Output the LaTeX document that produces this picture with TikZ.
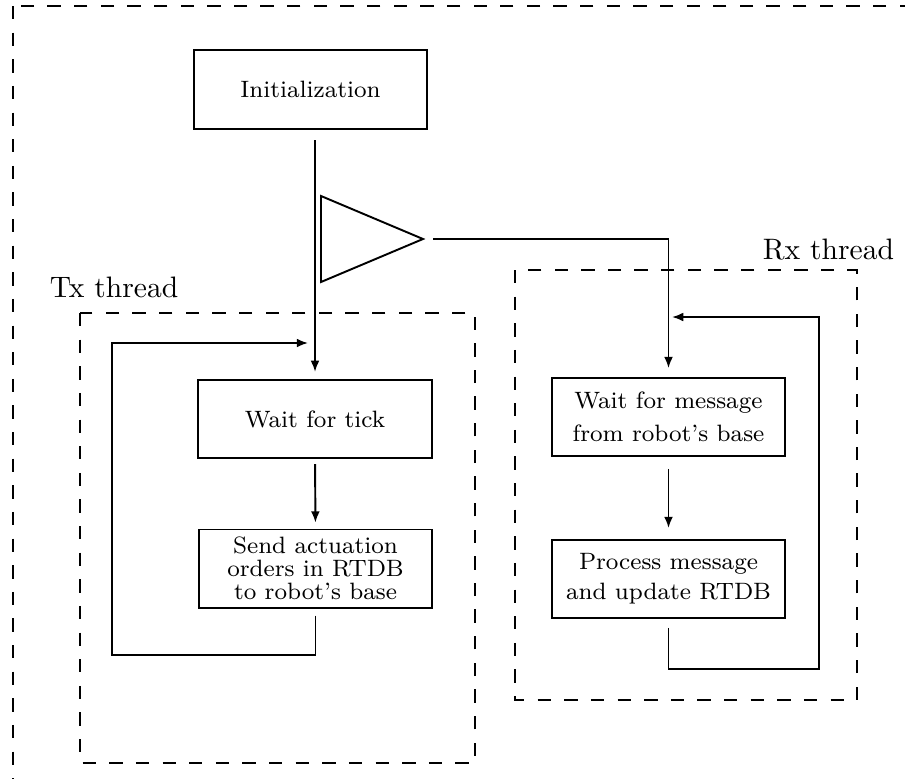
\documentclass[tikz,border=0pt]{standalone}
\usetikzlibrary{arrows.meta}
\begin{document}
\begin{tikzpicture}[x=0.338pt,y=-0.338pt,
  line width=0.65pt,
  flowbox/.style={draw, rectangle, minimum width=78.8pt, minimum height=26.4pt,
    inner sep=1pt, align=center, font=\footnotesize},
  flow/.style={-{Latex[length=3.8pt,width=3pt]}},
  region/.style={dash pattern=on 4.5pt off 4.5pt},
  regionlabel/.style={inner sep=0pt, font=\normalsize}]
\useasboundingbox (0,0) rectangle (905,778);

% outer process boundary (runs past the page edge)
\draw[region] (13,6) rectangle (1000,1000);

% thread regions
\draw[region] (80,313) rectangle (475,763);
\draw[region] (515,270) rectangle (857,700);
\node[regionlabel, anchor=base west] (txlabel) at (49,297) {Tx thread};
\node[regionlabel, anchor=base east] (rxlabel) at (895,259) {Rx thread};

% steps
\node[flowbox] (init) at (310.5,89.5) {Initialization};
\node[flowbox] (tick) at (315,419) {Wait for tick};
\node[flowbox] (send) at (315.5,568.5) {Send actuation\\[-1.7pt]orders in RTDB\\[-1.7pt]to robot's base};
\node[flowbox] (msg) at (668.5,417) {Wait for message\\[1.6pt]from robot's base};
\node[flowbox] (proc) at (668.5,579) {Process message\\[0.6pt]and update RTDB};

% thread spawn symbol
\draw (321,196) -- (423,239) -- (321,282) -- cycle;
\coordinate (triout) at (433,239);

% loop corners
\coordinate (txloop) at (112,655);
\coordinate (txin) at (308,343);
\coordinate (rxloop) at (819,669);
\coordinate (rxin) at (672,317);

% connectors
\draw[flow, shorten <=3.7pt, shorten >=2.4pt] (init.south -| tick.north) -- (tick.north);
\draw[flow, shorten <=1.7pt, shorten >=2pt] (tick.south) -- (send.north);
\draw[flow, shorten <=2.4pt] (send.south) |- (txloop) |- (txin);
\draw[flow, shorten >=3pt] (triout) -| (msg.north);
\draw[flow, shorten <=4pt, shorten >=3.7pt] (msg.south) -- (proc.north);
\draw[flow, shorten <=3pt] (proc.south) |- (rxloop) |- (rxin);
\end{tikzpicture}
\end{document}
